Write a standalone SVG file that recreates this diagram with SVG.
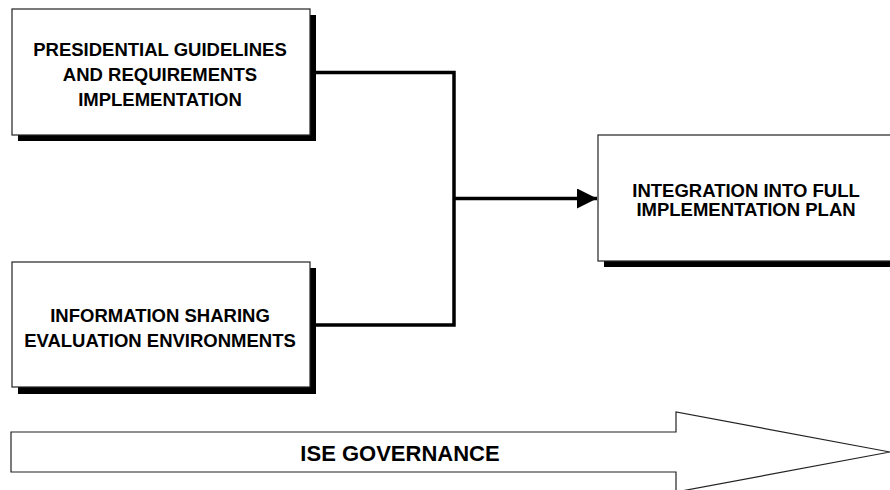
<svg xmlns="http://www.w3.org/2000/svg" width="890" height="490" viewBox="0 0 890 490">
<style>
.box{fill:#fff;stroke:#222;stroke-width:1.2}
.shadow{fill:#000}
.t{font-family:"Liberation Sans",Arial,sans-serif;font-weight:bold;font-size:18.5px;fill:#000;text-anchor:middle}
.conn{fill:none;stroke:#000;stroke-width:3.5}
</style>
<defs>
<marker id="ah" markerWidth="20" markerHeight="20" refX="20" refY="10" orient="auto" markerUnits="userSpaceOnUse">
<path d="M0,0 L20,10 L0,20 Z" fill="#000"/>
</marker>
</defs>
<rect width="890" height="490" fill="#fff"/>
<g id="connectors">
<polyline class="conn" points="310,72.5 454,72.5 454,325 310,325"/>
<line class="conn" x1="454" y1="198.5" x2="597" y2="198.5" marker-end="url(#ah)"/>
</g>
<g id="node-presidential">
<rect class="shadow" x="18" y="15" width="298" height="126"/>
<rect class="box" x="12" y="9" width="298" height="126"/>
<text class="t" x="160" y="56">PRESIDENTIAL GUIDELINES</text>
<text class="t" x="160" y="81">AND REQUIREMENTS</text>
<text class="t" x="160" y="106">IMPLEMENTATION</text>
</g>
<g id="node-information">
<rect class="shadow" x="18" y="268" width="298" height="126"/>
<rect class="box" x="12" y="262" width="298" height="125"/>
<text class="t" x="160" y="322">INFORMATION SHARING</text>
<text class="t" x="160" y="347">EVALUATION ENVIRONMENTS</text>
</g>
<g id="node-integration">
<rect class="shadow" x="604" y="141" width="300" height="126"/>
<rect class="box" x="598" y="135" width="300" height="126"/>
<text class="t" x="746" y="197">INTEGRATION INTO FULL</text>
<text class="t" x="746" y="216">IMPLEMENTATION PLAN</text>
</g>
<g id="node-governance">
<polygon points="11,432 676,432 676,412 890,452 676,492 676,472 11,472" fill="#fff" stroke="#222" stroke-width="1.2"/>
<text class="t" x="400" y="461" style="font-size:22px">ISE GOVERNANCE</text>
</g>
</svg>
